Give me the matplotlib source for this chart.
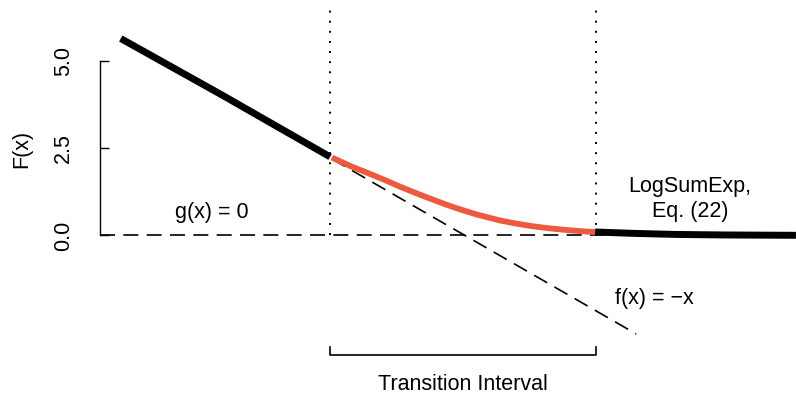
import matplotlib
matplotlib.use("Agg")
import matplotlib.pyplot as plt

plt.rcParams['font.family'] = ['Liberation Sans', 'DejaVu Sans']

# Data
left_x = [-5.69, -4.0, -2.23]
left_y = [5.66, 4.02, 2.26]

trans_x = [-2.20, -1.90, -1.57, -1.30, -1.07, -0.80, -0.53, -0.30, -0.08, 0.20, 0.58, 0.85, 1.12, 1.40, 1.69, 1.95, 2.15]
trans_y = [2.24, 2.00, 1.77, 1.575, 1.40, 1.21, 1.03, 0.88, 0.75, 0.60, 0.43, 0.34, 0.265, 0.205, 0.155, 0.12, 0.10]

right_x = [2.15, 2.8, 3.5, 4.3, 5.47]
right_y = [0.10, 0.06, 0.03, 0.015, 0.005]

fx_x = [-2.2, 2.83]
fx_y = [2.2, -2.83]
gx_x = [-6.03, 5.47]
gx_y = [0.0, 0.0]

interval = [-2.23, 2.17]
y_ticks = [0.0, 2.5, 5.0]
y_ticklabels = ["0.0", "2.5", "5.0"]

fig = plt.figure(figsize=(7.96, 3.98), dpi=100)
ax = fig.add_axes([0, 0, 1, 1])
ax.set_xlim(-7.686, 5.471)
ax.set_ylim(-4.670, 6.767)

# reference lines
ax.plot(gx_x, gx_y, color='black', lw=1.2, ls=(0, (9, 5)))
ax.plot(fx_x, fx_y, color='black', lw=1.2, ls=(0, (9, 5)))
for xv in interval:
    ax.plot([xv, xv], [0.0, 6.55], color='black', lw=1.4, ls=(0, (1, 4.2)))

# curves
ax.plot(left_x, left_y, color='black', lw=5.0, solid_capstyle='butt')
ax.plot(trans_x, trans_y, color='#EE5A3F', lw=4.2, solid_capstyle='butt',
        solid_joinstyle='round')
ax.plot(right_x, right_y, color='black', lw=5.0, solid_capstyle='butt')

# bracket for transition interval
ax.plot([interval[0], interval[0], interval[1], interval[1]],
        [-3.20, -3.43, -3.43, -3.20], color='black', lw=1.2)

fs = 15.5
ax.text(-4.18, 0.65, "g(x) = 0", ha='center', va='center', fontsize=fs)
ax.text(2.48, -1.80, "f(x) = \u2212x", ha='left', va='center', fontsize=fs)
ax.text(3.72, 1.42, "LogSumExp,", ha='center', va='center', fontsize=fs)
ax.text(3.72, 0.68, "Eq. (22)", ha='center', va='center', fontsize=fs)
ax.text(-0.03, -4.27, "Transition Interval", ha='center', va='center', fontsize=fs)

# y axis
for s in ['top', 'right', 'bottom']:
    ax.spines[s].set_visible(False)
ax.spines['left'].set_position(('data', -6.03))
ax.spines['left'].set_bounds(0, 5)
ax.spines['left'].set_linewidth(1.0)
ax.set_xticks([])
ax.set_yticks(y_ticks)
ax.set_yticklabels(y_ticklabels, rotation=90, va='center', fontsize=fs)
ax.tick_params(axis='y', direction='in', length=6.5, width=1.0, pad=19)
ax.text(-7.33, 2.5, "F(x)", rotation=90, ha='center', va='center', fontsize=fs)

fig.savefig("out.png", dpi=100)
